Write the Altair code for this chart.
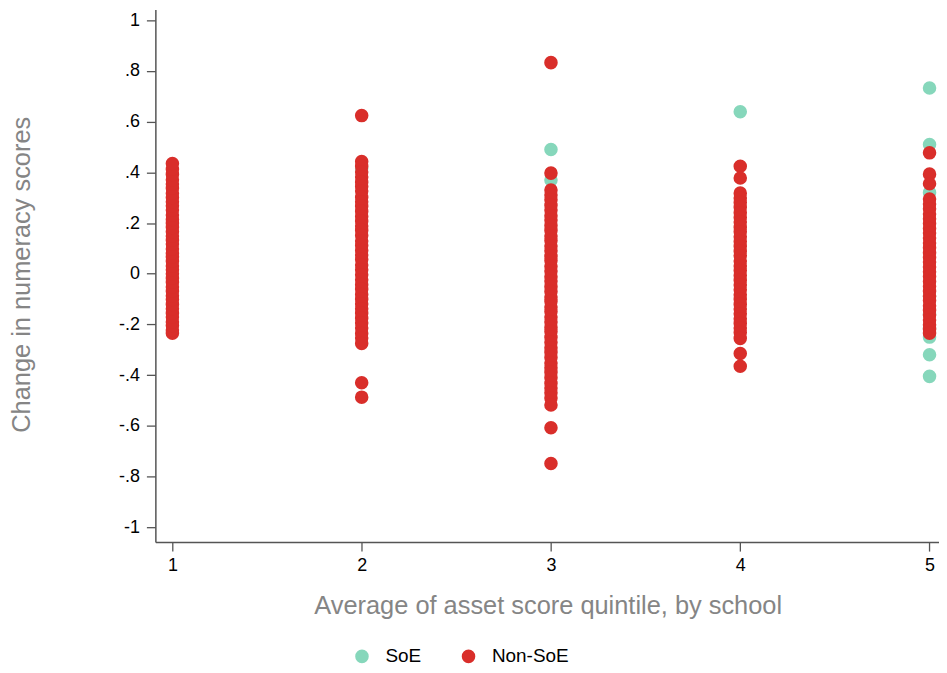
import altair as alt
import pandas as pd

# ---- data ----
q1_non = [-0.235, -0.222, -0.204, -0.19, -0.171, -0.156, -0.138, -0.121, -0.102, -0.087,
          -0.069, -0.052, -0.034, -0.018, 0.0, 0.016, 0.031, 0.049, 0.066, 0.082,
          0.098, 0.117, 0.132, 0.149, 0.166, 0.183, 0.199, 0.214, 0.232, 0.251,
          0.268, 0.284, 0.301, 0.318, 0.337, 0.354, 0.371, 0.392, 0.412, 0.435]
q1_soe = []

q2_non = [0.624, 0.443, 0.424, 0.401, 0.382, 0.361, 0.344, 0.326, 0.302, 0.284, 0.266,
          0.246, 0.226, 0.207, 0.188, 0.171, 0.151, 0.129, 0.111, 0.092, 0.074,
          0.056, 0.034, 0.016, -0.004, -0.024, -0.043, -0.061, -0.082, -0.101, -0.119,
          -0.138, -0.156, -0.176, -0.194, -0.214, -0.236, -0.254, -0.275, -0.43, -0.487]
q2_soe = [0.415]

q3_non = [0.833, 0.397, 0.33, 0.311, 0.292, 0.27, 0.251, 0.229, 0.212, 0.19, 0.171,
          0.149, 0.131, 0.109, 0.091, 0.069, 0.052, 0.03, 0.011, -0.012, -0.029,
          -0.051, -0.07, -0.092, -0.109, -0.131, -0.149, -0.171, -0.19, -0.212, -0.228,
          -0.251, -0.27, -0.292, -0.31, -0.331, -0.352, -0.371, -0.389, -0.41, -0.432,
          -0.451, -0.47, -0.49, -0.518, -0.608, -0.749]
q3_soe = [0.49, 0.37]

q4_non = [0.424, 0.378, 0.318, 0.299, 0.281, 0.262, 0.241, 0.222, 0.204, 0.183, 0.166,
          0.146, 0.127, 0.108, 0.089, 0.071, 0.05, 0.031, 0.013, -0.007, -0.026,
          -0.044, -0.063, -0.083, -0.101, -0.121, -0.139, -0.158, -0.178, -0.196, -0.214,
          -0.232, -0.255, -0.315, -0.365]
q4_soe = [0.639]

q5_non = [0.477, 0.393, 0.355, 0.295, 0.275, 0.256, 0.236, 0.217, 0.198, 0.178, 0.161,
          0.141, 0.121, 0.103, 0.084, 0.064, 0.046, 0.027, 0.008, -0.011, -0.031,
          -0.049, -0.069, -0.088, -0.106, -0.126, -0.144, -0.163, -0.183, -0.201, -0.219,
          -0.235]
q5_soe = [0.733, 0.51, 0.32, -0.09, -0.16, -0.215, -0.25, -0.32, -0.405]

groups = ["SoE", "Non-SoE"]
colors = ["#86d7bb", "#d92e2a"]
y_ticks = [-1, -0.8, -0.6, -0.4, -0.2, 0, 0.2, 0.4, 0.6, 0.8, 1]
x_ticks = [1, 2, 3, 4, 5]

rows = []
for q, soe, non in [(1, q1_soe, q1_non), (2, q2_soe, q2_non), (3, q3_soe, q3_non),
                    (4, q4_soe, q4_non), (5, q5_soe, q5_non)]:
    for v in soe:
        rows.append({"quintile": q, "change": v, "group": "SoE", "z": 0})
    for v in non:
        rows.append({"quintile": q, "change": v, "group": "Non-SoE", "z": 1})
df = pd.DataFrame(rows)

FONT = "Liberation Sans"

ylabel = ("datum.value == 0 ? '0' : (abs(datum.value) > 0.99 ? (datum.value < 0 ? '-1' : '1') : "
          "(datum.value < 0 ? '-' : '') + replace(format(abs(datum.value), '.1f'), '0.', '.'))")

chart = alt.Chart(df).mark_circle(size=185, opacity=1).encode(
    x=alt.X("quintile:Q",
            scale=alt.Scale(domain=[0.910, 5.05], nice=False, zero=False),
            axis=alt.Axis(values=x_ticks, format="d", grid=False,
                          title="Average of asset score quintile, by school",
                          titleX=394, titleY=64, titleBaseline="middle",
                          titleAlign="center")),
    y=alt.Y("change:Q",
            scale=alt.Scale(domain=[-1.059, 1.043], nice=False, zero=False),
            axis=alt.Axis(values=y_ticks, labelExpr=ylabel, grid=False,
                          title="Change in numeracy scores",
                          titleX=-134, titleY=266, titleAngle=270,
                          titleBaseline="middle", titleAlign="center")),
    color=alt.Color("group:N",
                    scale=alt.Scale(domain=groups, range=colors),
                    legend=alt.Legend(title=None, orient="none", direction="horizontal",
                                      legendX=198, legendY=640,
                                      symbolType="circle", symbolSize=185,
                                      symbolOpacity=1, symbolStrokeWidth=0,
                                      labelFont=FONT, labelFontSize=19,
                                      labelColor="#000000", labelOffset=14,
                                      columnPadding=38)),
    order=alt.Order("z:Q"),
).properties(
    width=787, height=535,
    autosize=alt.AutoSizeParams(type="none"),
    padding={"left": 148, "top": 0, "right": 0, "bottom": 122},
).configure_view(
    stroke=None
).configure_axis(
    domainColor="#555555", domainWidth=1.5,
    tickColor="#555555", tickSize=9, tickWidth=1.3,
    labelFont=FONT, labelFontSize=18, labelColor="#000000", labelPadding=6,
    titleFont=FONT, titleFontSize=25.5, titleColor="#858585", titleFontWeight="normal",
).configure_axisY(
    labelPadding=7
)

chart.save("out.html", embed_options={"renderer": "svg", "actions": False})
